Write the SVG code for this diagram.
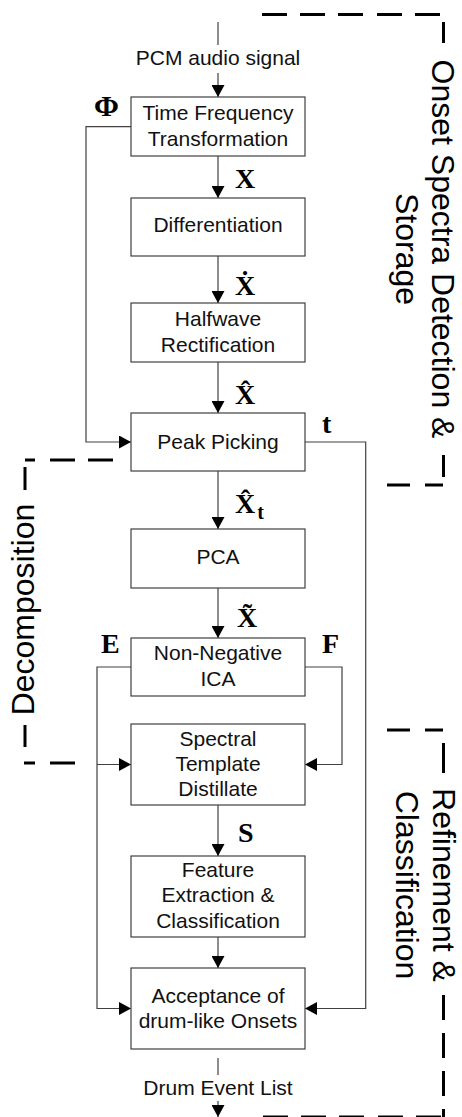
<svg xmlns="http://www.w3.org/2000/svg" width="462" height="1117" viewBox="0 0 462 1117">
<style>
.box{fill:#fff;stroke:#404040;stroke-width:1.2}
.lbl{font-family:"Liberation Sans",Arial,sans-serif;font-size:21px;fill:#111;text-anchor:middle}
.side{font-family:"Liberation Sans",Arial,sans-serif;font-size:32px;fill:#000;text-anchor:middle}
.m{font-family:"Liberation Serif","Times New Roman",serif;font-weight:bold;font-size:28px;fill:#000}
.con{fill:none;stroke:#404040;stroke-width:1.2}
.arr{fill:none;stroke:#404040;stroke-width:1.2;marker-end:url(#ah)}
.dash{stroke:#000;stroke-width:3;fill:none}
</style>
<defs>
<marker id="ah" markerWidth="12" markerHeight="13" refX="12" refY="6.5" orient="auto" markerUnits="userSpaceOnUse">
<path d="M0,0 L12,6.5 L0,13 z" fill="#000"/>
</marker>
</defs>

<g id="groups">
<g id="group-onset">
<path class="dash" d="M262,14.5H287M300,14.5H325M338,14.5H363M377,14.5H402M415,14.5H440"/>
<path class="dash" d="M443.5,22V43M443.5,455V477"/>
<path class="dash" d="M387,485H410M425,485H443"/>
<text class="side" transform="translate(432,249) rotate(90)"><tspan x="0" y="0">Onset Spectra Detection &amp;</tspan><tspan x="0" y="36">Storage</tspan></text>
</g>
<g id="group-decomposition">
<path class="dash" d="M25,460H35M50,460H75M88,460H113"/>
<path class="dash" d="M25,467V490M25,725V747"/>
<path class="dash" d="M24,763H35M50,763H75"/>
<text class="side" transform="translate(34,609.5) rotate(-90)">Decomposition</text>
</g>
<g id="group-refinement">
<path class="dash" d="M387,730H410M425,730H443"/>
<path class="dash" d="M443.5,743V773M443.5,995V1020M443.5,1033V1058M443.5,1071V1096M443.5,1109V1117"/>
<path class="dash" d="M263,1117H288M301,1117H326M339,1117H364M378,1117H403M416,1117H441"/>
<text class="side" transform="translate(433,885) rotate(90)"><tspan x="0" y="0">Refinement &amp;</tspan><tspan x="0" y="37">Classification</tspan></text>
</g>
</g>

<g id="connectors">
<path class="con" d="M218,22V45"/>
<text class="lbl" x="218" y="65">PCM audio signal</text>
<path class="arr" d="M218,73V97"/>
<path class="arr" d="M218,156V198"/>
<path class="arr" d="M218,256V303"/>
<path class="arr" d="M218,362V413"/>
<path class="arr" d="M218,471V529"/>
<path class="arr" d="M218,588V638"/>
<path class="arr" d="M218,805V856"/>
<path class="arr" d="M218,937V968"/>
<path class="arr" d="M131,126.7H86V442H131"/>
<path class="arr" d="M305,442H365.7V1008.5H305"/>
<path class="arr" d="M131,667H97V1008.5H131"/>
<path class="arr" d="M97,764.5H131"/>
<path class="arr" d="M305,667H342V764.5H305"/>
<path class="con" d="M218,1058V1075"/>
<text class="lbl" x="218" y="1095">Drum Event List</text>
<path class="arr" d="M218,1101V1117"/>
<text class="m" x="94" y="116" style="font-size:30px">Φ</text>
<text class="m" x="235" y="188">X</text>
<text class="m" x="235" y="295">Ẋ</text>
<text class="m" x="235" y="404">X̂</text>
<text class="m" x="235" y="513">X̂<tspan dx="2" dy="6" style="font-size:20px">t</tspan></text>
<text class="m" x="237" y="627">X̃</text>
<text class="m" x="101" y="653">E</text>
<text class="m" x="322" y="653">F</text>
<text class="m" x="322" y="433">t</text>
<text class="m" x="238" y="842">S</text>
</g>

<g id="n1"><rect class="box" x="131" y="97" width="174" height="59"/><text class="lbl" x="218" y="119.5">Time Frequency</text><text class="lbl" x="218" y="145.5">Transformation</text></g>
<g id="n2"><rect class="box" x="131" y="198" width="174" height="58"/><text class="lbl" x="218" y="232">Differentiation</text></g>
<g id="n3"><rect class="box" x="131" y="303" width="174" height="59"/><text class="lbl" x="218" y="326">Halfwave</text><text class="lbl" x="218" y="352">Rectification</text></g>
<g id="n4"><rect class="box" x="131" y="413" width="174" height="58"/><text class="lbl" x="218" y="449">Peak Picking</text></g>
<g id="n5"><rect class="box" x="131" y="529" width="174" height="59"/><text class="lbl" x="218" y="564">PCA</text></g>
<g id="n6"><rect class="box" x="131" y="638" width="174" height="58"/><text class="lbl" x="218" y="660">Non-Negative</text><text class="lbl" x="218" y="686">ICA</text></g>
<g id="n7"><rect class="box" x="131" y="724" width="174" height="81"/><text class="lbl" x="218" y="746">Spectral</text><text class="lbl" x="218" y="771">Template</text><text class="lbl" x="218" y="796">Distillate</text></g>
<g id="n8"><rect class="box" x="131" y="856" width="174" height="81"/><text class="lbl" x="218" y="877">Feature</text><text class="lbl" x="218" y="902">Extraction &amp;</text><text class="lbl" x="218" y="928">Classification</text></g>
<g id="n9"><rect class="box" x="131" y="968" width="174" height="81"/><text class="lbl" x="218" y="1003">Acceptance of</text><text class="lbl" x="218" y="1028">drum-like Onsets</text></g>
</svg>
